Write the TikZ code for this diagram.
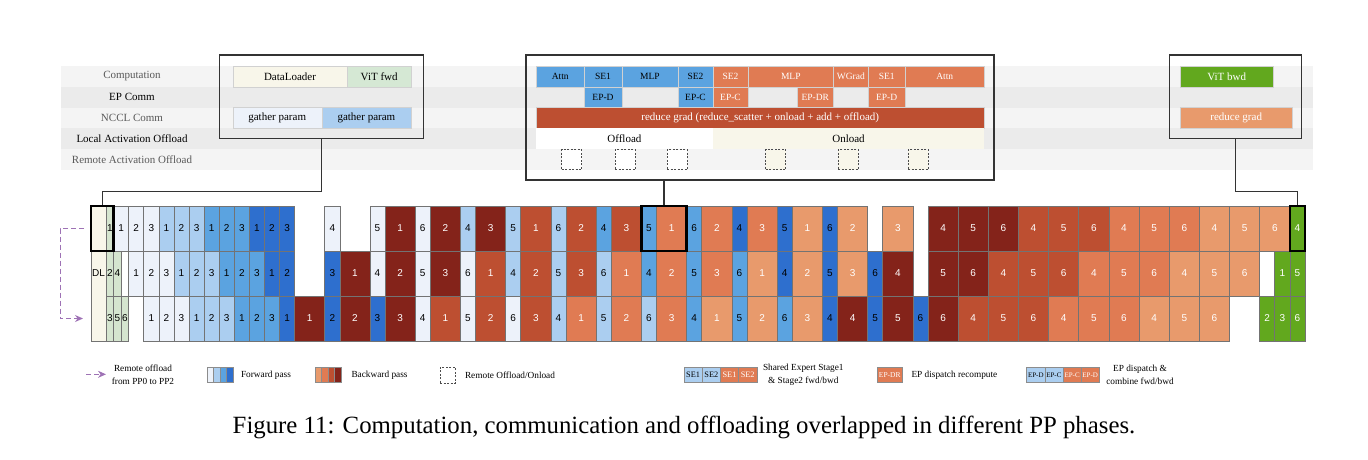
\documentclass[tikz,border=0pt]{standalone}
\usepackage{fontspec}
\setmainfont{Liberation Serif}
\newfontfamily\digitfont{Liberation Sans}
\usetikzlibrary{arrows.meta}

\definecolor{cfw1}{HTML}{EDF2FA}
\definecolor{cfw2}{HTML}{ABCEF0}
\definecolor{cfw3}{HTML}{5BA3E0}
\definecolor{cfw4}{HTML}{2E6FCE}
\definecolor{cbw1}{HTML}{E89A6C}
\definecolor{cbw2}{HTML}{E07B53}
\definecolor{cbw3}{HTML}{BD4F31}
\definecolor{cbw4}{HTML}{84231A}
\definecolor{cvit}{HTML}{62A81E}
\definecolor{cvitf}{HTML}{D5E8D4}
\definecolor{cdlg}{HTML}{D5E5CF}
\definecolor{ccrm}{HTML}{F8F6EA}
\definecolor{cpurple}{HTML}{9E72B5}
\definecolor{cbandA}{HTML}{F4F4F4}
\definecolor{cbandB}{HTML}{EBEBEB}

\tikzset{
  cell/.style={draw=black!55, line width=0.6pt, inner sep=0, minimum height=45pt,
    font=\digitfont\fontsize{10}{10}\selectfont},
  fw1/.style={fill=cfw1}, fw2/.style={fill=cfw2},
  fw3/.style={fill=cfw3}, fw4/.style={fill=cfw4},
  bw1/.style={fill=cbw1, text=white}, bw2/.style={fill=cbw2, text=white},
  bw3/.style={fill=cbw3, text=white}, bw4/.style={fill=cbw4, text=white},
  vit/.style={fill=cvit, text=white}, dls/.style={fill=cdlg},
  hilite/.style={draw=black, line width=2.4pt, inner sep=0, minimum height=45pt},
  lab/.style={font=\fontsize{11}{12}\selectfont},
  blk/.style={draw=black!18, line width=0.4pt, inner sep=0, minimum height=20.8pt,
    font=\fontsize{11}{12}\selectfont},
  sml/.style={blk, font=\fontsize{9.5}{10}\selectfont},
  panel/.style={draw=black!80, line width=1.2pt, inner sep=0},
  link/.style={draw=black!80, line width=1.2pt},
  remote/.style={draw=cpurple, line width=1pt, dash pattern=on 5pt off 3pt,
    -{Stealth[length=8pt,width=7pt]}},
  rbox/.style={draw=black!70, line width=0.8pt, dash pattern=on 2pt off 1.5pt,
    inner sep=0, minimum width=20pt, minimum height=20pt},
  swatch/.style={draw=black!45, line width=0.5pt, inner sep=0, minimum height=14.6pt},
  lgd/.style={font=\fontsize{9.3}{13.4}\selectfont, align=center}
}

\begin{document}
\begin{tikzpicture}[x=1pt,y=-1pt]
\useasboundingbox (0,0) rectangle (1368,459);

% phase rows
\fill[cbandA] (61,66) rectangle (1313,86.8);
\fill[cbandB] (61,86.8) rectangle (1313,107.6);
\fill[cbandA] (61,107.6) rectangle (1313,128.4);
\fill[cbandB] (61,128.4) rectangle (1313,149.2);
\fill[cbandA] (61,149.2) rectangle (1313,170);
\node[lab,text=black!65] (lcomp) at (132,76.4) {Computation};
\node[lab] (lep) at (132,97.2) {EP Comm};
\node[lab,text=black!65] (lnccl) at (132,118) {NCCL Comm};
\node[lab] (llocal) at (132,138.8) {Local Activation Offload};
\node[lab,text=black!65] (lremote) at (132,159.6) {Remote Activation Offload};

% warm-up phase
\node[blk,fill=ccrm,minimum width=114.6pt] (dload) at (290,76.4) {DataLoader};
\node[blk,fill=cvitf,minimum width=63.7pt] (vitf) at (379.2,76.4) {ViT fwd};
\node[blk,fill=cfw1,minimum width=89pt] (gath1) at (277.2,118) {gather param};
\node[blk,fill=cfw2,minimum width=89.3pt] (gath2) at (366.4,118) {gather param};
\node[panel,minimum width=204pt,minimum height=83.3pt] (lpanel) at (321.3,96.65) {};

% steady phase
\node[sml,fw3,minimum width=48.3pt] (attnf) at (560.2,76.4) {Attn};
\node[sml,fw3,minimum width=37.4pt] (se1f) at (603,76.4) {SE1};
\node[sml,fw3,minimum width=56.6pt] (mlpf) at (650,76.4) {MLP};
\node[sml,fw3,minimum width=34.4pt] (se2f) at (695.5,76.4) {SE2};
\node[sml,bw2,minimum width=35.6pt] (se2b) at (730.5,76.4) {SE2};
\node[sml,bw2,minimum width=85pt] (mlpb) at (790.8,76.4) {MLP};
\node[sml,bw2,minimum width=35pt] (wgrad) at (850.8,76.4) {WGrad};
\node[sml,bw2,minimum width=36.7pt] (se1b) at (886.7,76.4) {SE1};
\node[sml,bw2,minimum width=79.3pt] (attnb) at (944.7,76.4) {Attn};
\node[sml,fw3,minimum width=37.4pt] (epdf) at (603,97.2) {EP-D};
\node[sml,fw3,minimum width=34.4pt] (epcf) at (695.5,97.2) {EP-C};
\node[sml,bw2,minimum width=35.6pt] (epcb) at (730.5,97.2) {EP-C};
\node[sml,bw2,minimum width=36pt] (epdr) at (815.3,97.2) {EP-DR};
\node[sml,bw2,minimum width=36.7pt] (epdb) at (886.7,97.2) {EP-D};
\node[blk,bw3,minimum width=448.3pt] (rgrad) at (760.2,118)
  {reduce grad (reduce\_scatter + onload + add + offload)};
\node[blk,draw=none,fill=white,minimum width=176.7pt] (offl) at (624.4,138.8) {Offload};
\node[blk,draw=none,fill=ccrm,minimum width=271.6pt] (onl) at (848.5,138.8) {Onload};
\node[rbox,fill=white] (rb1) at (571.7,159.6) {};
\node[rbox,fill=white] (rb2) at (625.2,159.6) {};
\node[rbox,fill=white] (rb3) at (677,159.6) {};
\node[rbox,fill=ccrm] (rb4) at (775.7,159.6) {};
\node[rbox,fill=ccrm] (rb5) at (848.3,159.6) {};
\node[rbox,fill=ccrm] (rb6) at (918.3,159.6) {};
\node[panel,minimum width=468pt,minimum height=125pt] (mpanel) at (760,117.5) {};

% cool-down phase
\node[blk,vit,minimum width=93.3pt] (vitb) at (1226.7,76.4) {ViT bwd};
\node[blk,bw1,minimum width=112.3pt] (rgradr) at (1236.2,118) {reduce grad};
\node[panel,minimum width=132.4pt,minimum height=83.3pt] (rpanel) at (1235.5,96.65) {};

% pipeline PP0 / PP1 / PP2
\begin{scope}[shift={(91,206)},x=15.08pt,y=-15pt]
\node[cell,fill=ccrm,minimum width=15.08pt,minimum height=135pt] (dl) at (0.5,4.5) {DL};
\foreach \s/\w/\c/\t [count=\k] in {1/0.5/dls/1,
  1.5/1/fw1/1, 2.5/1/fw1/2, 3.5/1/fw1/3, 4.5/1/fw2/1, 5.5/1/fw2/2, 6.5/1/fw2/3,
  7.5/1/fw3/1, 8.5/1/fw3/2, 9.5/1/fw3/3, 10.5/1/fw4/1, 11.5/1/fw4/2, 12.5/1/fw4/3,
  15.5/1/fw1/4, 18.5/1/fw1/5, 19.5/2/bw4/1, 21.5/1/fw1/6, 22.5/2/bw4/2,
  24.5/1/fw2/4, 25.5/2/bw4/3, 27.5/1/fw2/5, 28.5/2/bw3/1, 30.5/1/fw2/6, 31.5/2/bw3/2,
  33.5/1/fw3/4, 34.5/2/bw3/3, 36.5/1/fw3/5, 37.5/2/bw2/1, 39.5/1/fw3/6, 40.5/2/bw2/2,
  42.5/1/fw4/4, 43.5/2/bw2/3, 45.5/1/fw4/5, 46.5/2/bw1/1, 48.5/1/fw4/6, 49.5/2/bw1/2,
  52.5/2/bw1/3, 55.5/2/bw4/4, 57.5/2/bw4/5, 59.5/2/bw4/6,
  61.5/2/bw3/4, 63.5/2/bw3/5, 65.5/2/bw3/6, 67.5/2/bw2/4, 69.5/2/bw2/5, 71.5/2/bw2/6,
  73.5/2/bw1/4, 75.5/2/bw1/5, 77.5/2/bw1/6, 79.5/1/vit/4}
  \node[cell,\c,minimum width=\w*15.08pt] (a\k) at (\s+\w/2,1.5) {\t};
\foreach \s/\w/\c/\t [count=\k] in {1/0.5/dls/2, 1.5/0.5/dls/4,
  2.5/1/fw1/1, 3.5/1/fw1/2, 4.5/1/fw1/3, 5.5/1/fw2/1, 6.5/1/fw2/2, 7.5/1/fw2/3,
  8.5/1/fw3/1, 9.5/1/fw3/2, 10.5/1/fw3/3, 11.5/1/fw4/1, 12.5/1/fw4/2,
  15.5/1/fw4/3, 16.5/2/bw4/1, 18.5/1/fw1/4, 19.5/2/bw4/2, 21.5/1/fw1/5, 22.5/2/bw4/3,
  24.5/1/fw1/6, 25.5/2/bw3/1, 27.5/1/fw2/4, 28.5/2/bw3/2, 30.5/1/fw2/5, 31.5/2/bw3/3,
  33.5/1/fw2/6, 34.5/2/bw2/1, 36.5/1/fw3/4, 37.5/2/bw2/2, 39.5/1/fw3/5, 40.5/2/bw2/3,
  42.5/1/fw3/6, 43.5/2/bw1/1, 45.5/1/fw4/4, 46.5/2/bw1/2, 48.5/1/fw4/5, 49.5/2/bw1/3,
  51.5/1/fw4/6, 52.5/2/bw4/4, 55.5/2/bw4/5, 57.5/2/bw4/6,
  59.5/2/bw3/4, 61.5/2/bw3/5, 63.5/2/bw3/6, 65.5/2/bw2/4, 67.5/2/bw2/5, 69.5/2/bw2/6,
  71.5/2/bw1/4, 73.5/2/bw1/5, 75.5/2/bw1/6, 78.5/1/vit/1, 79.5/1/vit/5}
  \node[cell,\c,minimum width=\w*15.08pt] (b\k) at (\s+\w/2,4.5) {\t};
\foreach \s/\w/\c/\t [count=\k] in {1/0.5/dls/3, 1.5/0.5/dls/5, 2/0.5/dls/6,
  3.5/1/fw1/1, 4.5/1/fw1/2, 5.5/1/fw1/3, 6.5/1/fw2/1, 7.5/1/fw2/2, 8.5/1/fw2/3,
  9.5/1/fw3/1, 10.5/1/fw3/2, 11.5/1/fw3/3, 12.5/1/fw4/1,
  13.5/2/bw4/1, 15.5/1/fw4/2, 16.5/2/bw4/2, 18.5/1/fw4/3, 19.5/2/bw4/3,
  21.5/1/fw1/4, 22.5/2/bw3/1, 24.5/1/fw1/5, 25.5/2/bw3/2, 27.5/1/fw1/6, 28.5/2/bw3/3,
  30.5/1/fw2/4, 31.5/2/bw2/1, 33.5/1/fw2/5, 34.5/2/bw2/2, 36.5/1/fw2/6, 37.5/2/bw2/3,
  39.5/1/fw3/4, 40.5/2/bw1/1, 42.5/1/fw3/5, 43.5/2/bw1/2, 45.5/1/fw3/6, 46.5/2/bw1/3,
  48.5/1/fw4/4, 49.5/2/bw4/4, 51.5/1/fw4/5, 52.5/2/bw4/5, 54.5/1/fw4/6, 55.5/2/bw4/6,
  57.5/2/bw3/4, 59.5/2/bw3/5, 61.5/2/bw3/6, 63.5/2/bw2/4, 65.5/2/bw2/5, 67.5/2/bw2/6,
  69.5/2/bw1/4, 71.5/2/bw1/5, 73.5/2/bw1/6, 77.5/1/vit/2, 78.5/1/vit/3, 79.5/1/vit/6}
  \node[cell,\c,minimum width=\w*15.08pt] (c\k) at (\s+\w/2,7.5) {\t};
\node[hilite,minimum width=1.5*15.08pt] (hl1) at (0.75,1.5) {};
\node[hilite,minimum width=3*15.08pt] (hl2) at (38,1.5) {};
\node[hilite,minimum width=15.08pt] (hl3) at (80,1.5) {};
\end{scope}

% zoom connectors
\coordinate (kneeL) at (321.3,191.7);
\coordinate (kneeR) at (1235.5,191.7);
\draw[link] (lpanel.south) -- (kneeL) -| (hl1.north);
\draw[link] (hl2.north) -- (hl2.north |- mpanel.south);
\draw[link] (rpanel.south) -- (kneeR) -| (hl3.north);

% remote offload PP0 -> PP2
\coordinate (offS) at (84,228.5);
\coordinate (offE) at (83,318.5);
\draw[remote] (offS) -- ++(-24,0) |- (offE);

% legend
\coordinate (lgS) at (86,374.3);
\draw[remote] (lgS) -- ++(20,0);
\node[lgd] (lgoff) at (143,375) {Remote offload\\from PP0 to PP2};
\node[swatch,fw1,minimum width=6.5pt] (lf1) at (210,375) {};
\node[swatch,fw2,minimum width=6.5pt] (lf2) at (216.5,375) {};
\node[swatch,fw3,minimum width=6.5pt] (lf3) at (223,375) {};
\node[swatch,fw4,minimum width=6.5pt] (lf4) at (229.5,375) {};
\node[lgd,anchor=west] (lgfw) at (237.5,375) {Forward pass};
\node[swatch,bw1,minimum width=6.5pt] (lb1) at (318.25,375) {};
\node[swatch,bw2,minimum width=6.5pt] (lb2) at (324.75,375) {};
\node[swatch,bw3,minimum width=6.5pt] (lb3) at (331.25,375) {};
\node[swatch,bw4,minimum width=6.5pt] (lb4) at (337.75,375) {};
\node[lgd,anchor=west] (lgbw) at (348,375) {Backward pass};
\node[rbox,minimum width=15pt,minimum height=16pt] (lrb) at (447.5,375) {};
\node[lgd,anchor=west] (lgrb) at (461.5,375) {Remote Offload/Onload};
\node[swatch,fw2,minimum width=18.2pt,font=\fontsize{8.3}{9}\selectfont] (ls1) at (693.1,375) {SE1};
\node[swatch,fw2,minimum width=18.2pt,font=\fontsize{8.3}{9}\selectfont] (ls2) at (711.3,375) {SE2};
\node[swatch,bw2,minimum width=18.2pt,font=\fontsize{8.3}{9}\selectfont] (ls3) at (729.5,375) {SE1};
\node[swatch,bw2,minimum width=18.2pt,font=\fontsize{8.3}{9}\selectfont] (ls4) at (747.7,375) {SE2};
\node[lgd] (lgse) at (803.3,375) {Shared Expert Stage1\\\& Stage2 fwd/bwd};
\node[swatch,bw2,minimum width=25pt,font=\fontsize{7.5}{8}\selectfont] (ldr) at (889.8,375) {EP-DR};
\node[lgd,anchor=west] (lgdr) at (908,375) {EP dispatch recompute};
\node[swatch,fw2,minimum width=18.15pt,font=\fontsize{7}{8}\selectfont] (le1) at (1035.8,375) {EP-D};
\node[swatch,fw2,minimum width=18.15pt,font=\fontsize{7}{8}\selectfont] (le2) at (1053.9,375) {EP-C};
\node[swatch,bw2,minimum width=18.15pt,font=\fontsize{7}{8}\selectfont] (le3) at (1072.1,375) {EP-C};
\node[swatch,bw2,minimum width=18.15pt,font=\fontsize{7}{8}\selectfont] (le4) at (1090.2,375) {EP-D};
\node[lgd] (lgep) at (1140,375) {EP dispatch \&\\combine fwd/bwd};

\node[font=\fontsize{24.8}{28}\selectfont] (cap) at (684,427)
  {Figure 11: Computation, communication and offloading overlapped in different PP phases.};
\end{tikzpicture}
\end{document}
